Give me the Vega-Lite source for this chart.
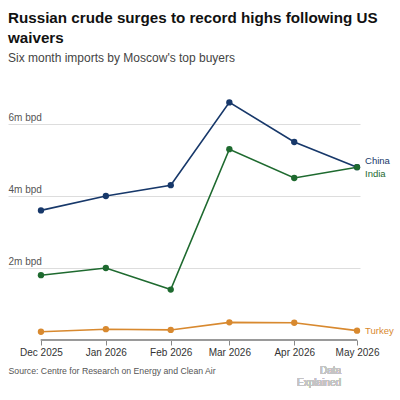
{
  "$schema": "https://vega.github.io/schema/vega-lite/v6.json",
  "autosize": "none",
  "width": 352,
  "height": 252,
  "padding": {"left": 8, "top": 88, "right": 40, "bottom": 60},
  "background": "white",
  "config": {
    "font": "Liberation Sans",
    "view": {"stroke": null}
  },
  "title": {
    "text": ["Russian crude surges to record highs following US", "waivers"],
    "subtitle": "Six month imports by Moscow's top buyers",
    "anchor": "start",
    "frame": "group",
    "font": "Liberation Sans",
    "fontSize": 15.2,
    "fontWeight": "bold",
    "color": "#111111",
    "lineHeight": 20,
    "subtitleFont": "Liberation Sans",
    "subtitleFontSize": 12,
    "subtitleColor": "#444444",
    "subtitlePadding": 7,
    "offset": 24
  },
  "data": {
    "values": [
      {"month": "2025-12-01", "country": "China", "value": 3.6},
      {"month": "2026-01-01", "country": "China", "value": 4.0},
      {"month": "2026-02-01", "country": "China", "value": 4.3},
      {"month": "2026-03-01", "country": "China", "value": 6.6},
      {"month": "2026-04-01", "country": "China", "value": 5.5},
      {"month": "2026-05-01", "country": "China", "value": 4.8},
      {"month": "2025-12-01", "country": "India", "value": 1.8},
      {"month": "2026-01-01", "country": "India", "value": 2.0},
      {"month": "2026-02-01", "country": "India", "value": 1.4},
      {"month": "2026-03-01", "country": "India", "value": 5.3},
      {"month": "2026-04-01", "country": "India", "value": 4.5},
      {"month": "2026-05-01", "country": "India", "value": 4.8},
      {"month": "2025-12-01", "country": "Turkey", "value": 0.23},
      {"month": "2026-01-01", "country": "Turkey", "value": 0.3},
      {"month": "2026-02-01", "country": "Turkey", "value": 0.28},
      {"month": "2026-03-01", "country": "Turkey", "value": 0.49},
      {"month": "2026-04-01", "country": "Turkey", "value": 0.48},
      {"month": "2026-05-01", "country": "Turkey", "value": 0.26}
    ]
  },
  "encoding": {
    "x": {
      "field": "month",
      "type": "temporal",
      "scale": {
        "type": "utc",
        "domain": [
          {"year": 2025, "month": 11, "date": 15, "hours": 6, "utc": true},
          {"year": 2026, "month": 5, "date": 2, "hours": 10, "utc": true}
        ]
      },
      "axis": {
        "values": [
          {"year": 2025, "month": 12, "date": 1, "utc": true},
          {"year": 2026, "month": 1, "date": 1, "utc": true},
          {"year": 2026, "month": 2, "date": 1, "utc": true},
          {"year": 2026, "month": 3, "date": 1, "utc": true},
          {"year": 2026, "month": 4, "date": 1, "utc": true},
          {"year": 2026, "month": 5, "date": 1, "utc": true}
        ],
        "labelExpr": "utcFormat(datum.value, '%b %Y')",
        "domain": false,
        "grid": false,
        "ticks": true,
        "tickSize": 5,
        "tickColor": "#888888",
        "labelFontSize": 10,
        "labelColor": "#333333",
        "labelPadding": 2,
        "labelFlush": false,
        "title": "Source: Centre for Research on Energy and Clean Air",
        "titleAnchor": "start",
        "titleAlign": "left",
        "titleFontWeight": "normal",
        "titleFontSize": 8.7,
        "titleColor": "#555555",
        "titlePadding": 9
      }
    },
    "y": {
      "field": "value",
      "type": "quantitative",
      "scale": {"domain": [0, 7], "nice": false},
      "axis": {
        "values": [2, 4, 6],
        "labelExpr": "datum.value + 'm bpd'",
        "domain": false,
        "ticks": false,
        "tickSize": 0,
        "labelPadding": 0,
        "labelAlign": "left",
        "labelBaseline": "bottom",
        "labelOffset": -2,
        "labelFlush": false,
        "labelFontSize": 10,
        "labelColor": "#555555",
        "gridColor": "#dddddd",
        "gridWidth": 1,
        "title": null
      }
    },
    "color": {
      "field": "country",
      "type": "nominal",
      "scale": {
        "domain": ["China", "India", "Turkey"],
        "range": ["#17386a", "#1e6a2f", "#d8892f"]
      },
      "legend": null
    }
  },
  "layer": [
    {
      "mark": {"type": "rule", "color": "#999999", "strokeWidth": 1},
      "encoding": {
        "x": {"datum": {"year": 2025, "month": 12, "date": 1, "utc": true}},
        "x2": {"datum": {"year": 2026, "month": 5, "date": 1, "utc": true}},
        "y": {"datum": 0},
        "color": {"value": "#999999"}
      }
    },
    {
      "mark": {"type": "line", "strokeWidth": 1.6}
    },
    {
      "mark": {"type": "circle", "size": 40, "opacity": 1}
    },
    {
      "transform": [{"filter": "datum.country === 'China' && utcmonth(datum.month) === 4"}],
      "mark": {"type": "text", "align": "left", "dx": 8, "dy": -6, "fontSize": 9.5},
      "encoding": {"text": {"field": "country"}}
    },
    {
      "transform": [{"filter": "datum.country === 'India' && utcmonth(datum.month) === 4"}],
      "mark": {"type": "text", "align": "left", "dx": 8, "dy": 7, "fontSize": 9.5},
      "encoding": {"text": {"field": "country"}}
    },
    {
      "transform": [{"filter": "datum.country === 'Turkey' && utcmonth(datum.month) === 4"}],
      "mark": {"type": "text", "align": "left", "dx": 8, "dy": 0, "fontSize": 9.5},
      "encoding": {"text": {"field": "country"}}
    },
    {
      "mark": {"type": "text", "align": "right", "baseline": "middle", "dx": -16, "fontSize": 10, "color": "#c4c4c4"},
      "encoding": {
        "x": {"datum": {"year": 2026, "month": 5, "date": 1, "utc": true}},
        "y": {"datum": -0.86},
        "text": {"value": "Data"},
        "color": {"value": "#c4c4c4"}
      }
    },
    {
      "mark": {"type": "text", "align": "right", "baseline": "middle", "dx": -16, "fontSize": 10, "color": "#c4c4c4"},
      "encoding": {
        "x": {"datum": {"year": 2026, "month": 5, "date": 1, "utc": true}},
        "y": {"datum": -1.2},
        "text": {"value": "Explained"},
        "color": {"value": "#c4c4c4"}
      }
    }
  ]
}
